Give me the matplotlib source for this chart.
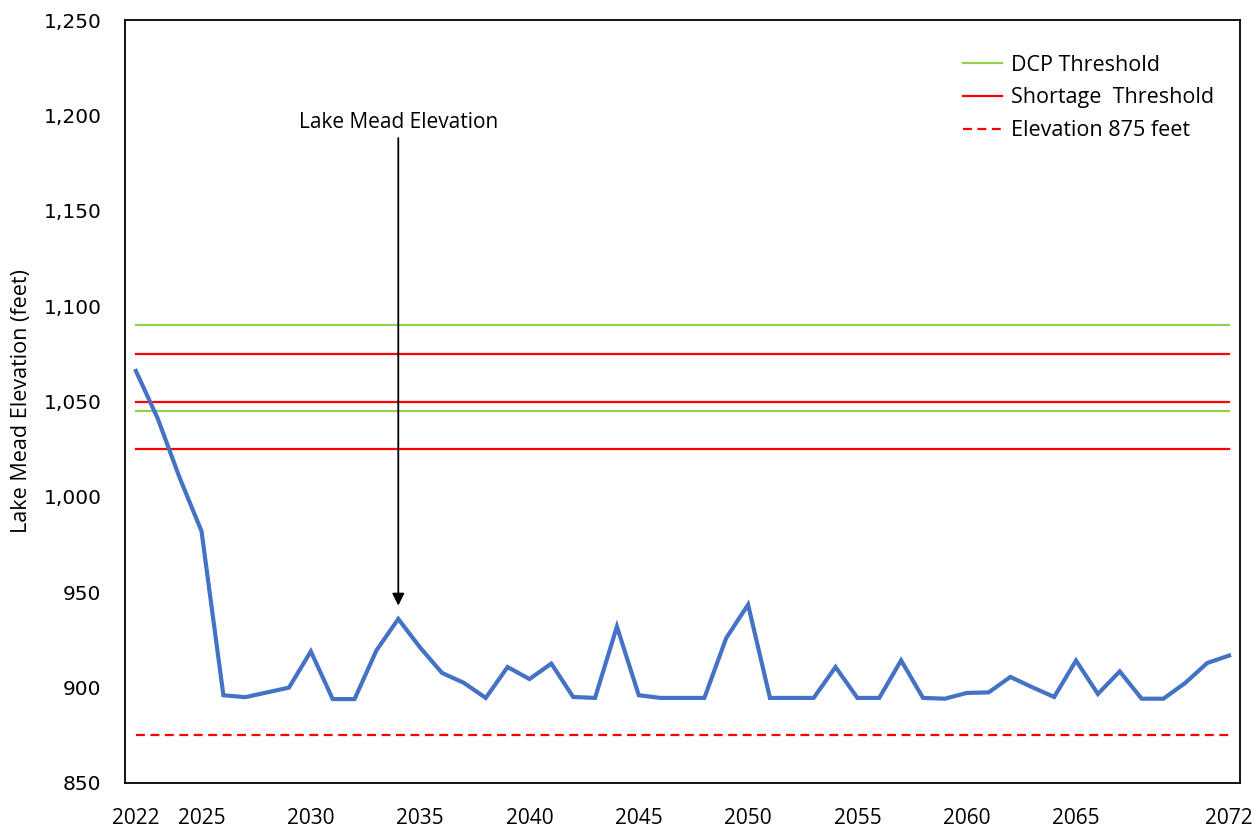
import matplotlib

matplotlib.use("Agg")
import matplotlib.pyplot as plt
from matplotlib.ticker import FuncFormatter

years = list(range(2022, 2073))
elevation = [
    1066, 1041, 1010, 982, 896, 895, 897.5, 900, 919, 894,
    894, 919.5, 936, 921, 907.7, 902.5, 894.6, 910.8, 904.5, 912.6,
    895.1, 894.6, 932, 896, 894.6, 894.6, 894.6, 926, 943.5, 894.6,
    894.6, 894.6, 910.8, 894.6, 894.6, 914.3, 894.6, 894.2, 897.2, 897.5,
    905.6, 900.2, 895.1, 914.2, 896.7, 908.5, 894.2, 894.2, 902.5, 912.9,
    916.8,
]
dcp_levels = [1090, 1045]
shortage_levels = [1075, 1050, 1025]
floor_level = 875
xtick_years = [2022, 2025, 2030, 2035, 2040, 2045, 2050, 2055, 2060, 2065, 2072]
yticks = [850, 900, 950, 1000, 1050, 1100, 1150, 1200, 1250]

BLUE = "#4472C4"
GREEN = "#92D050"
RED = "#FF0000"
TXT = ["Open Sans", "DejaVu Sans"]

fig = plt.figure(figsize=(12.58, 8.34), dpi=100)
ax = fig.add_axes([125 / 1258, 51 / 834, 1115 / 1258, 763 / 834])

for i, lvl in enumerate(dcp_levels):
    ax.plot(years, [lvl] * len(years), color=GREEN, lw=1.6,
            label="DCP Threshold" if i == 0 else None)
for i, lvl in enumerate(shortage_levels):
    ax.plot(years, [lvl] * len(years), color=RED, lw=1.6,
            label="Shortage  Threshold" if i == 0 else None)
ax.plot(years, [floor_level] * len(years), color=RED, lw=1.6,
        ls=(0, (4, 2.5)), label="Elevation 875 feet")

ax.plot(years, elevation, color=BLUE, lw=3.0, solid_joinstyle="miter")

ax.set_xlim(2021.5, 2072.5)
ax.set_ylim(850, 1250)
ax.set_xticks(xtick_years)
ax.set_yticks(yticks)
ax.yaxis.set_major_formatter(FuncFormatter(lambda v, p: f"{int(v):,}"))
ax.tick_params(axis="both", length=0)
ax.tick_params(axis="x", pad=18)
ax.tick_params(axis="y", pad=17)
for lab in ax.get_xticklabels():
    lab.set_fontfamily(TXT)
    lab.set_fontsize(15)
for lab in ax.get_yticklabels():
    lab.set_fontfamily("DejaVu Sans")
    lab.set_fontsize(14.5)

for s in ax.spines.values():
    s.set_linewidth(1.3)
    s.set_color("#000000")

ax.set_ylabel("Lake Mead Elevation (feet)", family=TXT, fontsize=15.5)
ax.yaxis.set_label_coords(-0.083, 0.5)

ax.annotate("Lake Mead Elevation", xy=(2034, 943), xytext=(2034, 1191),
            ha="center", va="bottom", family=TXT, fontsize=15,
            arrowprops=dict(arrowstyle="-|>", color="black", lw=1.3,
                            mutation_scale=18, shrinkA=2, shrinkB=0))

leg = ax.legend(loc="upper right", bbox_to_anchor=(0.994, 0.98), frameon=False,
                prop={"family": TXT, "size": 15.5}, handlelength=1.8,
                handletextpad=0.4, labelspacing=0.55)

fig.savefig("out.png", dpi=100)
